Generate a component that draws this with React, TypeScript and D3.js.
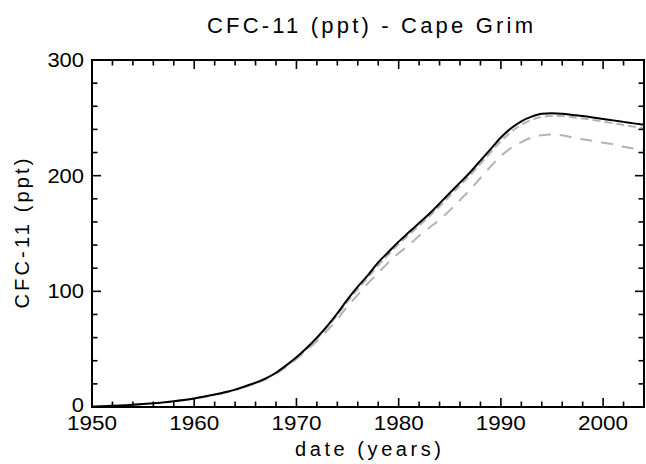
import React from "react";
import * as d3 from "d3";

const years = d3.range(1950, 2005);

const observed = [
  0.3, 0.6, 1.0, 1.4, 1.9, 2.5, 3.2, 4.0, 5.0, 6.1,
  7.4, 9.0, 10.8, 12.8, 15.0, 18.0, 21.0, 24.8, 29.6, 36,
  43, 51, 60, 70, 81, 93, 104, 114, 125, 134,
  143, 151, 159, 167, 176, 185, 194, 203, 213, 223,
  233, 241, 247, 251, 253.5, 254, 253.5, 252.5, 251.5, 250.3,
  249, 247.8, 246.5, 245.2, 244,
];

const modelA = [
  0.3, 0.6, 1.0, 1.4, 1.9, 2.5, 3.2, 4.0, 5.0, 6.1,
  7.3, 8.9, 10.7, 12.7, 14.9, 17.8, 20.7, 24.5, 29.2, 35.5,
  42.3, 50.2, 59, 68.8, 79.5, 91.2, 102, 112, 122.5, 131.8,
  140.8, 148.8, 156.8, 164.8, 173.6, 182.5, 191.5, 200.5, 210.3, 220.2,
  229.8, 237.8, 244, 248.3, 250.8, 251.7, 251.5, 250.6, 249.5, 248.2,
  246.8, 245.3, 243.8, 242.4, 241,
];

const modelB = [
  0.3, 0.6, 1.0, 1.4, 1.9, 2.5, 3.2, 4.0, 5.0, 6.0,
  7.2, 8.7, 10.4, 12.4, 14.5, 17.4, 20.4, 24.0, 28.6, 34.6,
  41.5, 49, 57, 66, 76, 87, 97, 107, 116, 125,
  133, 140, 148, 155, 162, 170, 179, 188, 198, 208,
  217, 224, 229, 233, 235, 235.5, 235, 233, 231.5, 230,
  228.5, 227, 225, 223.5, 222,
];

const xTicks = [1950, 1960, 1970, 1980, 1990, 2000];
const yTicks = [0, 100, 200, 300];

const W = 646;
const H = 464;
const left = 92;
const right = 644;
const top = 60;
const bottom = 407;

export default function App() {
  const x = d3.scaleLinear().domain([1950, 2004]).range([left, right]);
  const y = d3.scaleLinear().domain([0, 300]).range([bottom, top]);

  const line = (vals: number[]) =>
    d3
      .line<number>()
      .x((_, i) => x(years[i]))
      .y((d) => y(d))
      .curve(d3.curveMonotoneX)(vals) || "";

  const xMinor = d3.range(1950, 2005, 2).filter((v) => v % 10 !== 0);
  const yMinor = d3.range(0, 301, 20).filter((v) => v % 100 !== 0);
  const font = "'Liberation Sans', Arial, sans-serif";
  const majorLen = 9;
  const minorLen = 5.5;

  return (
    <svg
      width={W}
      height={H}
      style={{ position: "absolute", left: 0, top: 0, background: "#fff" }}
      fontFamily={font}
    >
      <rect x={0} y={0} width={W} height={H} fill="#fff" />
      <clipPath id="plot">
        <rect x={left} y={top} width={right - left} height={bottom - top} />
      </clipPath>
      <g clipPath="url(#plot)" fill="none" strokeWidth={2}>
        <path d={line(modelB)} stroke="#b3b3b3" strokeDasharray="12,9" />
        <path d={line(modelA)} stroke="#b3b3b3" strokeDasharray="8,4" />
        <path d={line(observed)} stroke="#000" />
      </g>
      <g stroke="#000" strokeWidth={1.6}>
        {xTicks.map((t) => (
          <g key={"xM" + t}>
            <line x1={x(t)} x2={x(t)} y1={bottom} y2={bottom - majorLen} />
            <line x1={x(t)} x2={x(t)} y1={top} y2={top + majorLen} />
          </g>
        ))}
        {xMinor.map((t) => (
          <g key={"xm" + t}>
            <line x1={x(t)} x2={x(t)} y1={bottom} y2={bottom - minorLen} />
            <line x1={x(t)} x2={x(t)} y1={top} y2={top + minorLen} />
          </g>
        ))}
        {yTicks.map((t) => (
          <g key={"yM" + t}>
            <line x1={left} x2={left + majorLen} y1={y(t)} y2={y(t)} />
            <line x1={right} x2={right - majorLen} y1={y(t)} y2={y(t)} />
          </g>
        ))}
        {yMinor.map((t) => (
          <g key={"ym" + t}>
            <line x1={left} x2={left + minorLen} y1={y(t)} y2={y(t)} />
            <line x1={right} x2={right - minorLen} y1={y(t)} y2={y(t)} />
          </g>
        ))}
      </g>
      <rect
        x={left}
        y={top}
        width={right - left}
        height={bottom - top}
        fill="none"
        stroke="#000"
        strokeWidth={2}
      />
      <g fontSize={20} fill="#000">
        {xTicks.map((t) => (
          <text
            key={"xl" + t}
            x={x(t)}
            y={430}
            textAnchor="middle"
            textLength={50}
            lengthAdjust="spacingAndGlyphs"
          >
            {t}
          </text>
        ))}
        {yTicks.map((t) => (
          <text
            key={"yl" + t}
            x={84}
            y={t === 0 ? y(t) + 5 : y(t) + 7}
            textAnchor="end"
            textLength={String(t).length * 12.2}
            lengthAdjust="spacingAndGlyphs"
          >
            {t}
          </text>
        ))}
      </g>
      <text
        x={370}
        y={33}
        fontSize={22}
        textAnchor="middle"
        textLength={326}
        lengthAdjust="spacing"
      >
        CFC-11 (ppt) - Cape Grim
      </text>
      <text
        x={368}
        y={456}
        fontSize={20}
        textAnchor="middle"
        textLength={146}
        lengthAdjust="spacing"
      >
        date (years)
      </text>
      <text
        transform={`translate(29,${(top + bottom) / 2}) rotate(-90)`}
        fontSize={20}
        textAnchor="middle"
        textLength={150}
        lengthAdjust="spacing"
      >
        CFC-11 (ppt)
      </text>
    </svg>
  );
}
